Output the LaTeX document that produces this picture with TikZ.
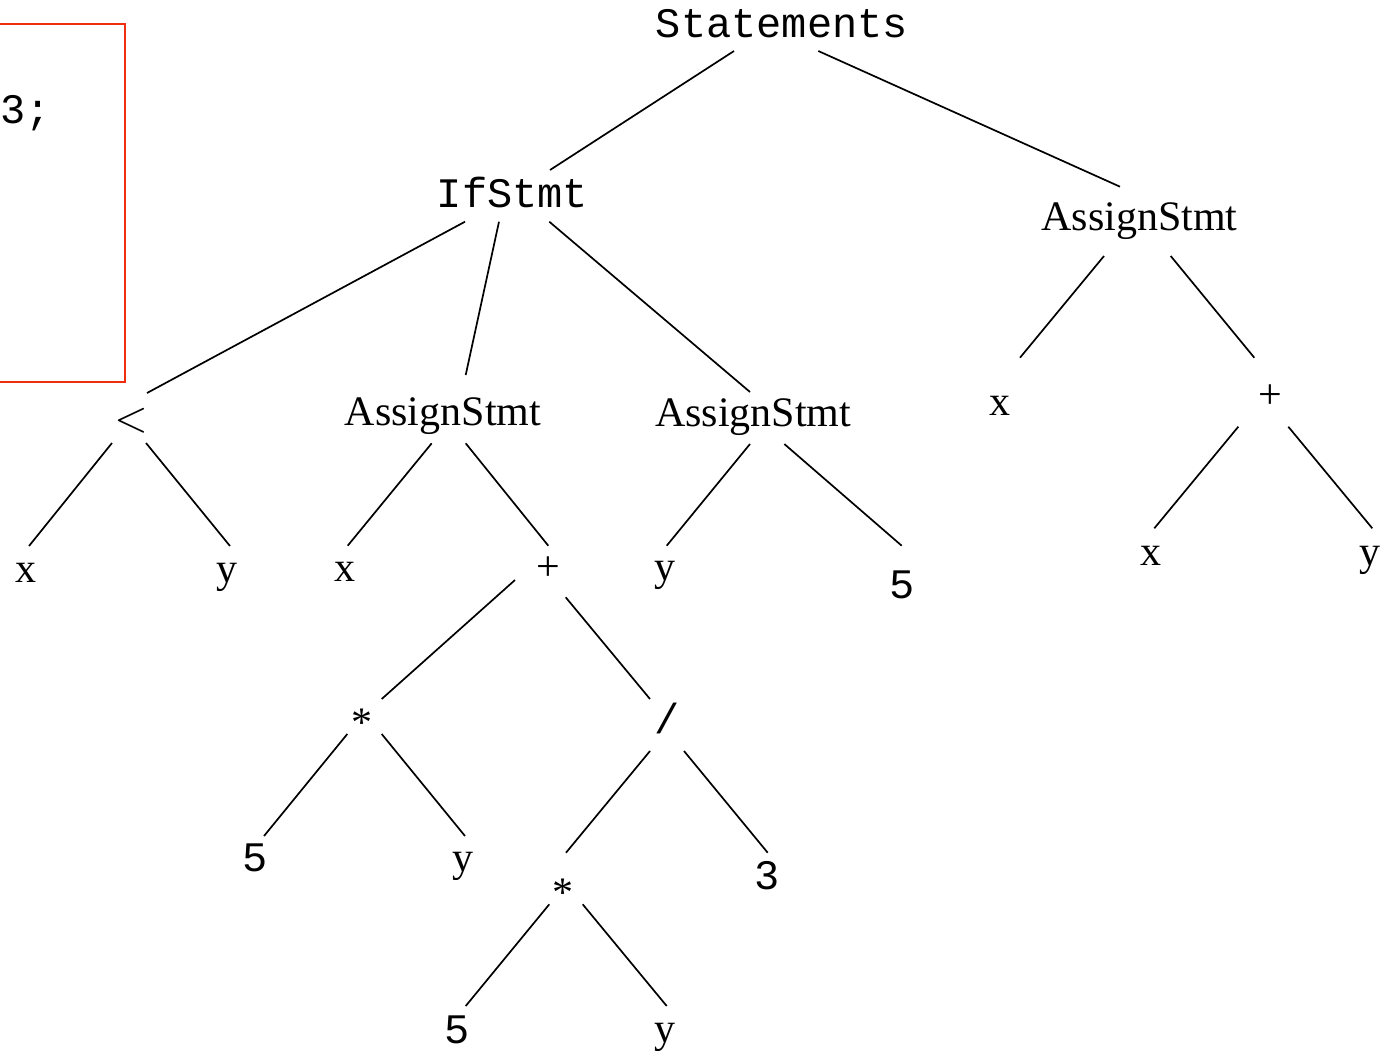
\documentclass[tikz,border=0pt]{standalone}
\usepackage{fontspec}
\newfontfamily\monof{Liberation Mono}
\newfontfamily\seriff{Liberation Serif}
\definecolor{boxred}{RGB}{240,45,15}
\tikzset{
  lbl/.style={inner sep=0pt, outer sep=0pt, anchor=base},
  mono/.style={lbl, font=\monof\fontsize{42}{50}\selectfont},
  serifl/.style={lbl, font=\seriff\fontsize{42}{50}\selectfont},
  mathl/.style={lbl},
  edge/.style={line width=1.7pt, black},
  codebox/.style={draw=boxred, line width=2pt},
}
\begin{document}
\begin{tikzpicture}[x=1pt,y=-1pt]
\clip (0,0) rectangle (1395,1053);
\fill[white] (0,0) rectangle (1395,1053);

% code box (cut off at the left edge)
\draw[codebox] (-20,24.3) rectangle (125,381.7);
\node[mono, anchor=base east] (code) at (50.7,123) {3;};

% nodes
\node[mono]   (st)   at (782,37)      {Statements};
\node[mono]   (ifs)  at (512.5,207)   {IfStmt};
\node[serifl] (ar)   at (1139.5,230)  {AssignStmt};
\node[mathl]  (lt)   at (131,431.5)   {\scalebox{4.3}[4.3]{$<$}};
\node[serifl] (a1)   at (443,425)     {AssignStmt};
\node[serifl] (a2)   at (753.3,426.7) {AssignStmt};
\node[serifl] (rx)   at (1000,415)    {x};
\node[serifl] (rp)   at (1270,408)    {+};
\node[serifl] (lx)   at (25.5,582)    {x};
\node[serifl] (ly)   at (227,582)     {y};
\node[serifl] (a1x)  at (344.5,581.7) {x};
\node[serifl] (a1p)  at (548,580)     {+};
\node[serifl] (a2y)  at (664.5,580)   {y};
\node[mono]   (a2f)  at (901.7,598.3) {5};
\node[serifl] (rpx)  at (1151,565)    {x};
\node[serifl] (rpy)  at (1369.5,565)  {y};
\node[serifl] (m1)   at (361.7,736)   {*};
\node[mono]   (dv)   at (666.7,733)   {/};
\node[mono]   (m1f)  at (255,871.7)   {5};
\node[serifl] (m1y)  at (463,871)     {y};
\node[serifl] (m2)   at (563,906.5)   {*};
\node[mono]   (d3)   at (767,889)     {3};
\node[mono]   (m2f)  at (457,1043)    {5};
\node[serifl] (m2y)  at (665,1042.5)  {y};

% connectors
\draw[edge] ([shift={(-48,14)}]st.base)      -- ([shift={(37.5,-37)}]ifs.base);
\draw[edge] ([shift={(36.3,14)}]st.base)     -- ([shift={(-19.5,-43.3)}]ar.base);
\draw[edge] ([shift={(-47.5,14.7)}]ifs.base) -- ([shift={(16,-38.5)}]lt.base);
\draw[edge] ([shift={(-13.5,14.7)}]ifs.base) -- ([shift={(22.7,-50)}]a1.base);
\draw[edge] ([shift={(36.8,14.7)}]ifs.base)  -- ([shift={(-3.3,-34.7)}]a2.base);
\draw[edge] ([shift={(-35.5,26)}]ar.base)    -- ([shift={(20,-57.3)}]rx.base);
\draw[edge] ([shift={(31.2,26)}]ar.base)     -- ([shift={(-15.7,-50.3)}]rp.base);
\draw[edge] ([shift={(-19,11.5)}]lt.base)    -- ([shift={(3.5,-36)}]lx.base);
\draw[edge] ([shift={(15,11.5)}]lt.base)     -- ([shift={(3,-36)}]ly.base);
\draw[edge] ([shift={(-11.3,18.3)}]a1.base)  -- ([shift={(3.2,-36)}]a1x.base);
\draw[edge] ([shift={(22.7,18.3)}]a1.base)   -- ([shift={(0.3,-34.3)}]a1p.base);
\draw[edge] ([shift={(-3.3,17.3)}]a2.base)   -- ([shift={(2.2,-34.3)}]a2y.base);
\draw[edge] ([shift={(31,17.3)}]a2.base)     -- ([shift={(0,-52.6)}]a2f.base);
\draw[edge] ([shift={(-31.7,18.7)}]rp.base)  -- ([shift={(3.3,-36.7)}]rpx.base);
\draw[edge] ([shift={(18.3,18.7)}]rp.base)   -- ([shift={(2.8,-36.7)}]rpy.base);
\draw[edge] ([shift={(-33,0)}]a1p.base)      -- ([shift={(20,-37)}]m1.base);
\draw[edge] ([shift={(17.7,17.3)}]a1p.base)  -- ([shift={(-16.7,-34)}]dv.base);
\draw[edge] ([shift={(-14.4,-2)}]m1.base)    -- ([shift={(9,-35.7)}]m1f.base);
\draw[edge] ([shift={(20,-2)}]m1.base)       -- ([shift={(2,-35)}]m1y.base);
\draw[edge] ([shift={(-16.7,18)}]dv.base)    -- ([shift={(3,-53.8)}]m2.base);
\draw[edge] ([shift={(17.3,18)}]dv.base)     -- ([shift={(0.7,-36.3)}]d3.base);
\draw[edge] ([shift={(-13.7,-2.2)}]m2.base)  -- ([shift={(8.7,-37)}]m2f.base);
\draw[edge] ([shift={(19.7,-2.2)}]m2.base)   -- ([shift={(1.7,-36.5)}]m2y.base);
\end{tikzpicture}
\end{document}
